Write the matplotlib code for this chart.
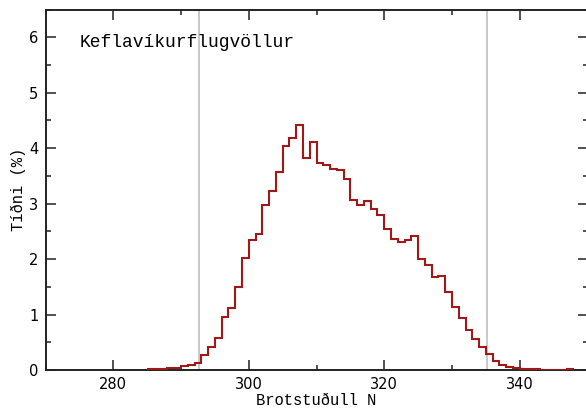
import numpy as np
import matplotlib
matplotlib.use("Agg")
import matplotlib.pyplot as plt

# Frequency distribution of refractivity (N units), 1-unit bins
bin_edges = list(range(285, 349))
freq_pct = [
    0.01, 0.01, 0.02, 0.03, 0.04, 0.07, 0.09, 0.12, 0.27, 0.42,   # 285-294
    0.57, 0.95, 1.11, 1.50, 2.02, 2.34, 2.46, 2.97, 3.22, 3.57,   # 295-304
    4.03, 4.19, 4.41, 3.83, 4.11, 3.73, 3.70, 3.62, 3.60, 3.44,   # 305-314
    3.06, 2.97, 3.04, 2.90, 2.79, 2.55, 2.37, 2.30, 2.34, 2.42,   # 315-324
    2.01, 1.89, 1.67, 1.69, 1.41, 1.13, 0.93, 0.72, 0.55, 0.42,   # 325-334
    0.28, 0.16, 0.09, 0.06, 0.03, 0.01, 0.01, 0.01, 0.005, 0.005, # 335-344
    0.0, 0.0, 0.01,                                               # 345-347
]
# Lower / upper reference levels
ref_lines = [292.6, 335.2]

station = "Keflavíkurflugvöllur"
xlabel = "Brotstuðull N"
ylabel = "Tíðni (%)"

fig = plt.figure(figsize=(5.86, 4.09), dpi=100)
ax = fig.add_axes([45.5 / 586, 39 / 409, 542 / 586, 360.5 / 409])

for xv in ref_lines:
    ax.axvline(xv, color="#c4c4c4", lw=1.3, zorder=1)

ax.stairs(freq_pct, bin_edges, color="#a01818", lw=1.5, baseline=None, zorder=3)

ax.set_xlim(270, 350)
ax.set_ylim(0, 6.5)
ax.set_xticks([280, 300, 320, 340])
ax.set_xticks(np.arange(270, 351, 10), minor=True)
ax.set_yticks(range(0, 7))
ax.set_yticks(np.arange(0, 6.51, 0.5), minor=True)

ax.tick_params(which="both", direction="in", top=True, right=True,
               width=1.1, color="#222222")
ax.tick_params(which="major", length=7.2, labelsize=10.5, pad=5)
ax.tick_params(which="minor", length=3.6)
for lab in ax.get_xticklabels() + ax.get_yticklabels():
    lab.set_family("DejaVu Sans")

for sp in ax.spines.values():
    sp.set_linewidth(1.4)
    sp.set_color("#222222")

ax.set_xlabel(xlabel, family="Liberation Mono", fontsize=11.2, labelpad=0.5)
ax.set_ylabel(ylabel, family="Liberation Mono", fontsize=11.2, labelpad=2)

ax.text(275.1, 5.9, station, family="Liberation Mono", fontsize=13,
        va="center", ha="left")

fig.savefig("out.png", dpi=100)
